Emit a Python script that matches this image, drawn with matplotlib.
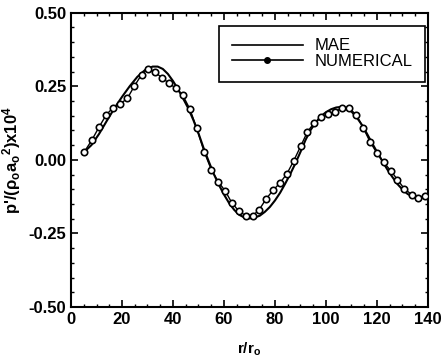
import matplotlib
matplotlib.use("Agg")
import matplotlib.pyplot as plt
from matplotlib.lines import Line2D
from matplotlib.ticker import MultipleLocator

plt.rcParams['font.family'] = ['Liberation Sans', 'DejaVu Sans']
plt.rcParams['mathtext.fontset'] = 'custom'
plt.rcParams['mathtext.rm'] = 'Liberation Sans:bold'
plt.rcParams['mathtext.it'] = 'Liberation Sans:bold'
plt.rcParams['mathtext.bf'] = 'Liberation Sans:bold'

# Numerical solution (open circles)
num_x = [5.2, 8.1, 11.1, 13.9, 16.5, 19.3, 22.1, 24.8, 27.7, 30.1, 32.8, 35.6,
         38.4, 41.0, 43.8, 46.6, 49.3, 52.2, 55.0, 57.7, 60.5, 63.0, 65.7, 68.5,
         71.2, 73.7, 76.5, 79.2, 82.0, 84.7, 87.3, 90.1, 92.7, 95.4, 98.2, 100.9,
         103.5, 106.4, 109.0, 111.9, 114.6, 117.3, 119.9, 122.6, 125.4, 128.0,
         130.7, 133.6, 136.2, 139.0]
num_y = [0.027, 0.066, 0.113, 0.154, 0.177, 0.190, 0.209, 0.250, 0.290, 0.308,
         0.300, 0.279, 0.261, 0.244, 0.220, 0.173, 0.107, 0.028, -0.033, -0.074,
         -0.106, -0.145, -0.173, -0.190, -0.190, -0.171, -0.133, -0.104, -0.078,
         -0.047, -0.004, 0.047, 0.095, 0.126, 0.145, 0.155, 0.164, 0.176, 0.176,
         0.153, 0.109, 0.061, 0.024, -0.008, -0.037, -0.067, -0.098, -0.118,
         -0.128, -0.122]

# MAE solution (solid line)
mae_x = [5.2, 8, 11, 14, 17, 20, 23, 26, 29, 32, 34, 36, 38, 40, 42, 44, 46, 48,
         50, 52, 54, 56, 58, 60, 62, 64, 66, 68, 70, 72, 74, 76, 78, 80, 82, 84,
         86, 88, 90, 92, 94, 96, 98, 100, 102, 104, 106, 108, 110, 112, 114, 116,
         118, 120, 122, 124, 126, 128, 130, 132, 134, 136, 138, 139.5]
mae_y = [0.027, 0.050, 0.088, 0.132, 0.175, 0.214, 0.250, 0.282, 0.305, 0.317,
         0.317, 0.309, 0.292, 0.268, 0.240, 0.208, 0.175, 0.135, 0.090, 0.040,
         -0.005, -0.048, -0.085, -0.118, -0.147, -0.170, -0.187, -0.196, -0.199,
         -0.196, -0.190, -0.177, -0.160, -0.138, -0.112, -0.081, -0.048, -0.012,
         0.027, 0.068, 0.102, 0.127, 0.148, 0.162, 0.172, 0.178, 0.180, 0.176,
         0.164, 0.145, 0.120, 0.090, 0.058, 0.027, -0.003, -0.032, -0.058,
         -0.082, -0.101, -0.116, -0.125, -0.128, -0.126, -0.122]

xticks = [0, 20, 40, 60, 80, 100, 120, 140]
yticks = [-0.50, -0.25, 0.00, 0.25, 0.50]
series_labels = ["MAE", "NUMERICAL"]

fig = plt.figure(figsize=(4.41, 3.59), dpi=100)
ax = fig.add_axes([0.161, 0.145, 0.8095, 0.8195])

ax.plot(mae_x, mae_y, color='black', lw=1.5, zorder=2)
ax.plot(num_x, num_y, color='black', lw=1.0, marker='o', ms=4.6,
        mfc='white', mec='black', mew=1.2, zorder=3)

ax.set_xlim(0, 140)
ax.set_ylim(-0.5, 0.5)
ax.set_xticks(xticks)
ax.set_yticks(yticks)
ax.set_xticklabels([str(v) for v in xticks], fontweight='bold')
ax.set_yticklabels([f"{v:.2f}" for v in yticks], fontweight='bold')
ax.xaxis.set_minor_locator(MultipleLocator(5))
ax.yaxis.set_minor_locator(MultipleLocator(0.05))
ax.tick_params(which='both', direction='in', top=True, right=True, labelsize=12)
ax.tick_params(which='major', length=5, width=1.2)
ax.tick_params(which='minor', length=2.5, width=1)
for s in ax.spines.values():
    s.set_linewidth(1.5)

ax.set_xlabel(r"r/r$_o$", fontsize=11, labelpad=10, fontweight='bold')
ax.set_ylabel(r"p'/($\rho_o$a$_o$$^2$)x10$^4$", fontsize=12, labelpad=4,
              fontweight='bold')

handles = [Line2D([], [], color='black', lw=1.2),
           Line2D([], [], color='black', lw=1.2, marker='o', ms=4, mfc='black')]
leg = ax.legend(handles, series_labels, loc='upper right',
                bbox_to_anchor=(0.993, 0.955), fontsize=12, handlelength=4.3,
                handletextpad=0.7, labelspacing=0.05, borderpad=0.75,
                borderaxespad=0, fancybox=False, framealpha=1,
                edgecolor='black')
leg.get_frame().set_linewidth(1.2)

fig.savefig("out.png", dpi=100)
